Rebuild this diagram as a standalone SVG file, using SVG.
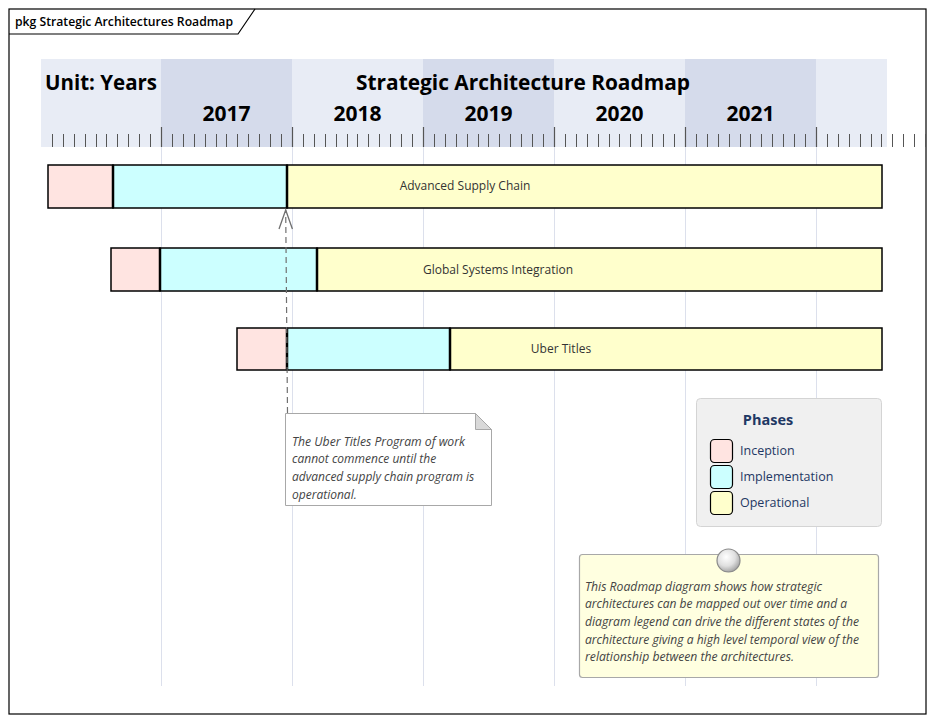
<svg xmlns="http://www.w3.org/2000/svg" width="933" height="722" viewBox="0 0 933 722">
<style>
.hdr{font-family:"Open Sans","Noto Sans",sans-serif;font-weight:bold;font-size:21px;fill:#000}
.yr{font-family:"Open Sans","Noto Sans",sans-serif;font-weight:bold;font-size:21px;fill:#000;text-anchor:middle}
.lbl{font-family:"Open Sans","Noto Sans",sans-serif;font-size:12px;fill:#333;text-anchor:middle}
.note{font-family:"Open Sans","Noto Sans",sans-serif;font-style:italic;font-size:12px;fill:#444}
.leg{font-family:"Open Sans","Noto Sans",sans-serif;font-size:12.5px;fill:#1f3864}
.inc{fill:#FFE4E1;stroke:#000;stroke-width:1.5}
.imp{fill:#CCFFFF;stroke:#000;stroke-width:1.5}
.ope{fill:#FFFFCC;stroke:#000;stroke-width:1.5}
.div{stroke:#000;stroke-width:2.5}
.grid{stroke:#DCE0EC;stroke-width:1}
</style>
<defs>
<radialGradient id="sph" cx="0.4" cy="0.35" r="0.65">
<stop offset="0" stop-color="#ffffff"/>
<stop offset="0.6" stop-color="#e0e0e0"/>
<stop offset="1" stop-color="#a8a8a8"/>
</radialGradient>
</defs>
<rect x="0" y="0" width="933" height="722" fill="#fff"/>
<g id="frame">
<rect x="9" y="9" width="917" height="705" fill="none" stroke="#000" stroke-width="1.2"/>
<path d="M9 34H238L255 9" fill="none" stroke="#000" stroke-width="1.2"/>
<text x="15" y="26" textLength="218" lengthAdjust="spacingAndGlyphs" style="font-family:'Open Sans','Noto Sans',sans-serif;font-size:12px;fill:#000;font-weight:600">pkg Strategic Architectures Roadmap</text>
</g>
<g id="timeline">
<rect x="41" y="59" width="846" height="88" fill="#E8ECF5"/>
<rect x="161" y="59" width="131" height="88" fill="#D5DBEB"/>
<rect x="423" y="59" width="131" height="88" fill="#D5DBEB"/>
<rect x="685" y="59" width="131" height="88" fill="#D5DBEB"/>
<path class="grid" d="M161.5 147V686M292.5 147V686M423.5 147V686M554.5 147V686M685.5 147V686M816.5 147V686"/>
<text class="hdr" x="45" y="90" textLength="112" lengthAdjust="spacingAndGlyphs">Unit: Years</text>
<text class="hdr" x="356" y="90" textLength="334" lengthAdjust="spacingAndGlyphs">Strategic Architecture Roadmap</text>
<text class="yr" x="226.5" y="121">2017</text>
<text class="yr" x="357.5" y="121">2018</text>
<text class="yr" x="488.5" y="121">2019</text>
<text class="yr" x="619.5" y="121">2020</text>
<text class="yr" x="750.5" y="121">2021</text>
<path stroke="#555" stroke-width="1" d="M52.5 134v13M63.5 134v13M74.5 134v13M85.5 134v13M96.5 134v13M106.5 134v13M117.5 134v13M128.5 134v13M139.5 134v13M150.5 134v13M172.5 134v13M183.5 134v13M194.5 134v13M205.5 134v13M216.5 134v13M226.5 134v13M237.5 134v13M248.5 134v13M259.5 134v13M270.5 134v13M281.5 134v13M303.5 134v13M314.5 134v13M325.5 134v13M336.5 134v13M347.5 134v13M357.5 134v13M368.5 134v13M379.5 134v13M390.5 134v13M401.5 134v13M412.5 134v13M434.5 134v13M445.5 134v13M456.5 134v13M467.5 134v13M478.5 134v13M488.5 134v13M499.5 134v13M510.5 134v13M521.5 134v13M532.5 134v13M543.5 134v13M565.5 134v13M576.5 134v13M587.5 134v13M598.5 134v13M609.5 134v13M619.5 134v13M630.5 134v13M641.5 134v13M652.5 134v13M663.5 134v13M674.5 134v13M696.5 134v13M707.5 134v13M718.5 134v13M729.5 134v13M740.5 134v13M750.5 134v13M761.5 134v13M772.5 134v13M783.5 134v13M794.5 134v13M805.5 134v13M827.5 134v13M838.5 134v13M849.5 134v13M860.5 134v13M871.5 134v13M881.5 134v13M892.5 134v13M903.5 134v13M914.5 134v13M925.5 134v13"/>
<path stroke="#555" stroke-width="1.2" d="M161.5 127v20M292.5 127v20M423.5 127v20M554.5 127v20M685.5 127v20M816.5 127v20"/>
</g>
<g id="bar-advanced-supply-chain">
<rect class="inc" x="48" y="165" width="65" height="43"/>
<rect class="imp" x="113" y="165" width="174" height="43"/>
<rect class="ope" x="287" y="165" width="595" height="43"/>
<path class="div" d="M113 165V208M287 165V208"/>
<text class="lbl" x="465" y="190">Advanced Supply Chain</text>
</g>
<g id="bar-global-systems-integration">
<rect class="inc" x="111" y="248" width="49" height="43"/>
<rect class="imp" x="160" y="248" width="157" height="43"/>
<rect class="ope" x="317" y="248" width="565" height="43"/>
<path class="div" d="M160 248V291M317 248V291"/>
<text class="lbl" x="498" y="274">Global Systems Integration</text>
</g>
<g id="bar-uber-titles">
<rect class="inc" x="237" y="328" width="50" height="42"/>
<rect class="imp" x="287" y="328" width="163" height="42"/>
<rect class="ope" x="450" y="328" width="432" height="42"/>
<path class="div" d="M287 328V370M450 328V370"/>
<text class="lbl" x="561" y="353">Uber Titles</text>
</g>
<g id="connectors">
<path d="M287.5 413L285.7 210" fill="none" stroke="#707070" stroke-width="1.2" stroke-dasharray="6,4"/>
<path d="M279 229L285.7 210L292.4 229" fill="none" stroke="#707070" stroke-width="1.3"/>
</g>
<g id="note-uber">
<path d="M285.5 413.5H475.5L491.5 429.5V505.5H285.5Z" fill="#fff" stroke="#A8A8A8" stroke-width="1"/>
<path d="M475.5 413.5V429.5H491.5Z" fill="#D9D9D9" stroke="#A8A8A8" stroke-width="1"/>
<text class="note" x="292" y="446" textLength="173" lengthAdjust="spacingAndGlyphs">The Uber Titles Program of work</text>
<text class="note" x="292" y="463">cannot commence until the</text>
<text class="note" x="292" y="481">advanced supply chain program is</text>
<text class="note" x="292" y="499">operational.</text>
</g>
<g id="legend">
<rect x="696.5" y="398.5" width="185" height="128" rx="4" fill="#F0F0F0" stroke="#D4D4D4" stroke-width="1"/>
<text x="768" y="425" text-anchor="middle" style="font-family:'Open Sans','Noto Sans',sans-serif;font-weight:bold;font-size:14.5px;fill:#1f3864">Phases</text>
<rect x="710.5" y="439.5" width="22" height="23" rx="4" fill="#FFE4E1" stroke="#000" stroke-width="1.2"/>
<rect x="710.5" y="465.5" width="22" height="23" rx="4" fill="#CCFFFF" stroke="#000" stroke-width="1.2"/>
<rect x="710.5" y="491.5" width="22" height="23" rx="4" fill="#FFFFCC" stroke="#000" stroke-width="1.2"/>
<text class="leg" x="740" y="455">Inception</text>
<text class="leg" x="740" y="481">Implementation</text>
<text class="leg" x="740" y="507">Operational</text>
</g>
<g id="note-roadmap">
<rect x="579.5" y="554.5" width="299" height="123" rx="3" fill="#FFFFE0" stroke="#A8A8A8" stroke-width="1.2"/>
<circle cx="728.5" cy="560.5" r="11.5" fill="url(#sph)" stroke="#8a8a8a" stroke-width="1.2"/>
<text class="note" x="585" y="590.5" textLength="237" lengthAdjust="spacingAndGlyphs">This Roadmap diagram shows how strategic</text>
<text class="note" x="585" y="608" textLength="262" lengthAdjust="spacingAndGlyphs">architectures can be mapped out over time and a</text>
<text class="note" x="585" y="626" textLength="274" lengthAdjust="spacingAndGlyphs">diagram legend can drive the different states of the</text>
<text class="note" x="585" y="643.5" textLength="274" lengthAdjust="spacingAndGlyphs">architecture giving a high level temporal view of the</text>
<text class="note" x="585" y="661" textLength="209" lengthAdjust="spacingAndGlyphs">relationship between the architectures.</text>
</g>
</svg>
